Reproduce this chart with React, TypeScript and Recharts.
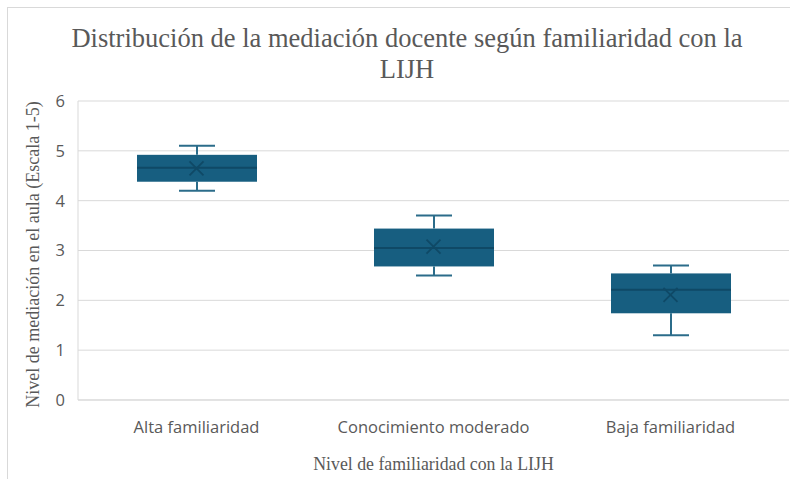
import React from 'react';
import { ComposedChart, Bar, Scatter, XAxis, YAxis, CartesianGrid, Label } from 'recharts';

const categories = ['Alta familiaridad', 'Conocimiento moderado', 'Baja familiaridad'];
const minValues = [4.2, 2.5, 1.3];
const q1Values = [4.38, 2.68, 1.74];
const medianValues = [4.66, 3.05, 2.21];
const q3Values = [4.92, 3.44, 2.54];
const maxValues = [5.1, 3.7, 2.7];
const meanValues = [4.65, 3.08, 2.11];
const yTicks = [0, 1, 2, 3, 4, 5, 6];

const data = categories.map((name, i) => ({
    name,
    base: minValues[i],
    lowWhisker: q1Values[i] - minValues[i],
    lowBox: medianValues[i] - q1Values[i],
    highBox: q3Values[i] - medianValues[i],
    highWhisker: maxValues[i] - q3Values[i],
    mean: meanValues[i],
}));

const BOX_FILL = '#175e80';
const MEDIAN = '#0f4966';
const WHISKER = '#2b6c8a';
const CAP = 36;

const Empty = () => <g />;

const LowWhisker = (p: any) => {
    const cx = p.x + p.width / 2;
    return (
        <g>
            <line x1={cx} x2={cx} y1={p.y} y2={p.y + p.height} stroke={WHISKER} strokeWidth={2} />
            <line x1={cx - CAP / 2} x2={cx + CAP / 2} y1={p.y + p.height} y2={p.y + p.height} stroke={WHISKER} strokeWidth={2} />
        </g>
    );
};

const HighWhisker = (p: any) => {
    const cx = p.x + p.width / 2;
    return (
        <g>
            <line x1={cx} x2={cx} y1={p.y} y2={p.y + p.height} stroke={WHISKER} strokeWidth={2} />
            <line x1={cx - CAP / 2} x2={cx + CAP / 2} y1={p.y} y2={p.y} stroke={WHISKER} strokeWidth={2} />
        </g>
    );
};

const LowBox = (p: any) => (
    <g>
        <rect x={p.x} y={p.y} width={p.width} height={p.height} fill={BOX_FILL} />
    </g>
);

const HighBox = (p: any) => (
    <g>
        <rect x={p.x} y={p.y} width={p.width} height={p.height} fill={BOX_FILL} />
        <line x1={p.x} x2={p.x + p.width} y1={p.y + p.height} y2={p.y + p.height} stroke={MEDIAN} strokeWidth={2} />
    </g>
);

const MeanMark = (p: any) => {
    const s = 7;
    return (
        <g>
            <line x1={p.cx - s} x2={p.cx + s} y1={p.cy - s} y2={p.cy + s} stroke={MEDIAN} strokeWidth={1.8} />
            <line x1={p.cx - s} x2={p.cx + s} y1={p.cy + s} y2={p.cy - s} stroke={MEDIAN} strokeWidth={1.8} />
        </g>
    );
};

const tickStyle = { fill: '#595959', fontSize: 16.5, fontFamily: '"Open Sans", sans-serif' };
const serif = '"Liberation Serif", "Times New Roman", serif';

export default function App() {
    return (
        <div style={{ position: 'fixed', left: 0, top: 0, width: 790, height: 479, overflow: 'hidden', background: '#fff' }}>
            <div style={{ position: 'absolute', left: 7, top: 7, width: 800, height: 500, borderTop: '1px solid #d9d9d9', borderLeft: '1px solid #d9d9d9' }} />
            <div style={{ position: 'absolute', left: 0, top: 23, width: 814, textAlign: 'center', fontFamily: serif, fontSize: 26.5, lineHeight: '31px', color: '#595959' }}>
                Distribución de la mediación docente según familiaridad con la
                <br />
                LIJH
            </div>
            <div style={{ position: 'absolute', left: 0, top: 0 }}>
                <ComposedChart width={790} height={479} data={data} margin={{ top: 101, right: 1, left: 0, bottom: 19 }}>
                    <CartesianGrid vertical={false} stroke="#d9d9d9" />
                    <XAxis
                        dataKey="name"
                        height={60}
                        tickSize={0}
                        tickLine={false}
                        tickMargin={21}
                        axisLine={{ stroke: '#d9d9d9' }}
                        tick={tickStyle}
                    >
                        <Label
                            content={(props: any) => {
                                const vb = props.viewBox;
                                return (
                                    <text x={vb.x + vb.width / 2} y={470} textAnchor="middle" fontFamily={serif} fontSize={17.8} fill="#595959">
                                        Nivel de familiaridad con la LIJH
                                    </text>
                                );
                            }}
                        />
                    </XAxis>
                    <YAxis
                        type="number"
                        domain={[0, 6]}
                        ticks={yTicks}
                        width={78}
                        tickSize={0}
                        tickLine={false}
                        tickMargin={13}
                        axisLine={{ stroke: '#d9d9d9' }}
                        tick={tickStyle}
                    >
                        <Label
                            content={(props: any) => {
                                const vb = props.viewBox;
                                const cy = vb.y + vb.height / 2 + 4;
                                return (
                                    <text x={39} y={cy} transform={`rotate(-90, 39, ${cy})`} textAnchor="middle" fontFamily={serif} fontSize={18} fill="#595959">
                                        Nivel de mediación en el aula (Escala 1-5)
                                    </text>
                                );
                            }}
                        />
                    </YAxis>
                    <Bar dataKey="base" stackId="box" barSize={120} shape={Empty} isAnimationActive={false} />
                    <Bar dataKey="lowWhisker" stackId="box" barSize={120} shape={LowWhisker} isAnimationActive={false} />
                    <Bar dataKey="lowBox" stackId="box" barSize={120} shape={LowBox} isAnimationActive={false} />
                    <Bar dataKey="highBox" stackId="box" barSize={120} shape={HighBox} isAnimationActive={false} />
                    <Bar dataKey="highWhisker" stackId="box" barSize={120} shape={HighWhisker} isAnimationActive={false} />
                    <Scatter dataKey="mean" shape={MeanMark} isAnimationActive={false} />
                </ComposedChart>
            </div>
        </div>
    );
}
